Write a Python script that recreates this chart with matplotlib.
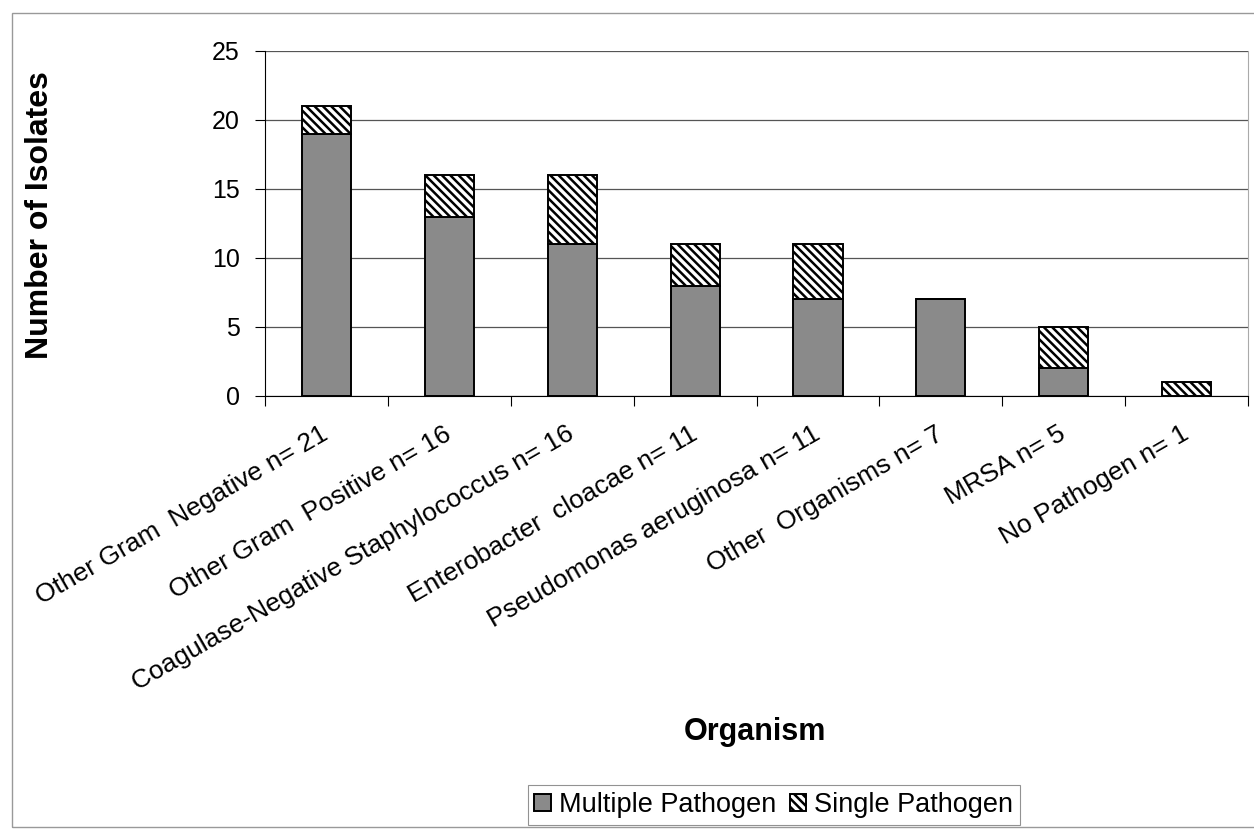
import matplotlib.pyplot as plt
import numpy as np
from matplotlib.patches import Rectangle

plt.rcParams["font.family"] = ["Liberation Sans", "DejaVu Sans"]
plt.rcParams["hatch.linewidth"] = 1.8

organisms = [
    "Other Gram  Negative n= 21",
    "Other Gram  Positive n= 16",
    "Coagulase-Negative Staphylococcus n= 16",
    "Enterobacter  cloacae n= 11",
    "Pseudomonas aeruginosa n= 11",
    "Other  Organisms n= 7",
    "MRSA n= 5",
    "No Pathogen n= 1",
]
multiple = [19, 13, 11, 8, 7, 7, 2, 0]
single = [2, 3, 5, 3, 4, 0, 3, 1]
y_ticks = [0, 5, 10, 15, 20, 25]

fig = plt.figure(figsize=(12.54, 8.30), dpi=100)
ax = fig.add_axes([0.2113, 0.5229, 0.7840, 0.4157])

x = np.arange(len(organisms))
width = 0.4
ax.bar(x, multiple, width, color="#8a8a8a", edgecolor="black",
       linewidth=1.4, label="Multiple Pathogen", zorder=3)
ax.bar(x, single, width, bottom=multiple, color="white", edgecolor="black",
       hatch="\\\\\\\\", linewidth=1.4, label="Single Pathogen", zorder=3)

ax.set_xlim(-0.5, len(organisms) - 0.5)
ax.set_ylim(0, 25)
ax.set_yticks(y_ticks)
ax.tick_params(axis="y", labelsize=18, length=7, width=0.8, pad=11)
ax.yaxis.grid(True, color="#555555", linewidth=0.9, zorder=0)

# ticks on category boundaries, labels on category centres
ax.set_xticks(np.arange(len(organisms) + 1) - 0.5)
ax.set_xticklabels([])
ax.tick_params(axis="x", which="major", length=7, width=0.8)
ax.set_xticks(x, minor=True)
ax.set_xticklabels(organisms, minor=True, rotation=30, ha="right",
                   va="center", rotation_mode="anchor", fontsize=19)
ax.tick_params(axis="x", which="minor", length=0, pad=26)

ax.spines["top"].set_visible(False)
ax.spines["right"].set_color("#aaaaaa")
ax.spines["left"].set_linewidth(0.8)
ax.spines["bottom"].set_linewidth(0.8)

ax.set_ylabel("Number of Isolates", fontsize=23, fontweight="bold")
ax.yaxis.set_label_coords(-0.214, 0.525)
fig.text(0.602, 0.118, "Organism", fontsize=22, fontweight="bold",
         ha="center", va="center")

leg = fig.legend(loc="center", bbox_to_anchor=(0.617, 0.030), ncol=2,
                 fontsize=19.5, frameon=True, fancybox=False,
                 handlelength=0.6, handleheight=0.6, handletextpad=0.3,
                 columnspacing=0.5, borderpad=0.25, borderaxespad=0)
leg.get_frame().set_edgecolor("#777777")
leg.get_frame().set_linewidth(0.8)

# outer chart frame
fig.patches.append(Rectangle((12 / 1254, 3 / 830), 1.05, 814 / 830,
                             transform=fig.transFigure, fill=False,
                             edgecolor="#999999", linewidth=1.0))

fig.savefig("out.png", dpi=100)
